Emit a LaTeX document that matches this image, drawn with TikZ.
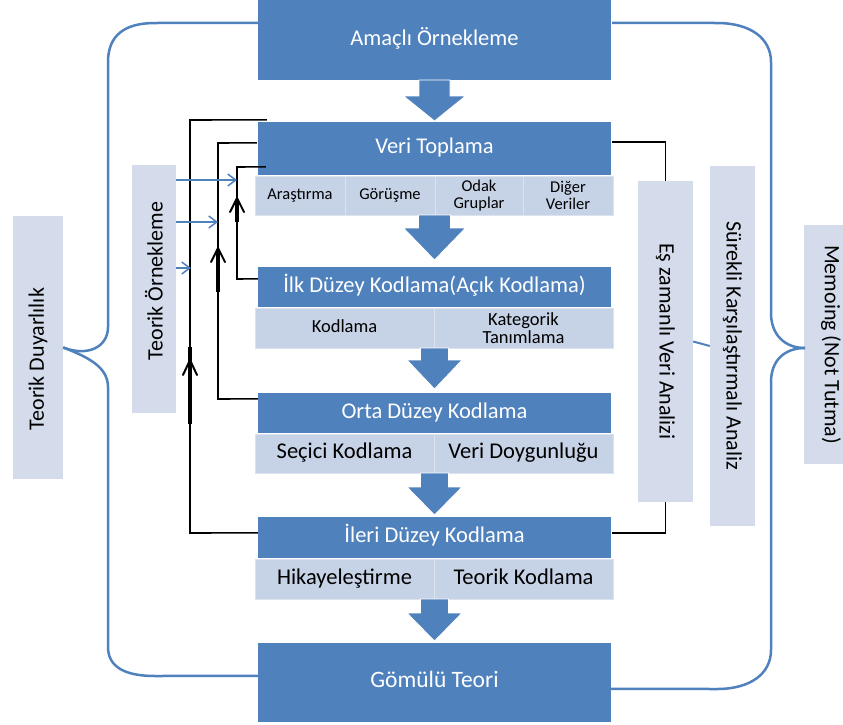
\documentclass[tikz,border=0pt]{standalone}
\usepackage{fontspec}
\setmainfont{Carlito}
\usetikzlibrary{calc,arrows.meta}
\definecolor{mainblue}{HTML}{4F81BD}
\definecolor{cellfill}{HTML}{C6D2E6}
\definecolor{cellline}{HTML}{DCE3EF}
\definecolor{sidefill}{HTML}{D4DCEB}
\newcommand\blkarrow[6]{%
  \path[blockarrow] ({#1-#5},#2) -- ({#1+#5},#2) -- ({#1+#5},#3) -- ({#1+#6},#3) -- (#1,#4) -- ({#1-#6},#3) -- ({#1-#5},#3) -- cycle;}
\begin{document}
\begin{tikzpicture}[x=1pt,y=-1pt,
  mainbox/.style={fill=mainblue, text=white, inner sep=0pt, text height=15pt, text depth=5pt, font=\fontsize{22.5}{24}\selectfont},
  cell/.style={fill=cellfill, draw=cellline, line width=1pt, inner sep=0pt, align=center},
  bigcell/.style={cell, text height=15pt, text depth=5pt, font=\fontsize{22.5}{24}\selectfont},
  midcell/.style={cell, font=\fontsize{18.5}{18.5}\selectfont},
  smallcell/.style={cell, font=\fontsize{16.5}{16.5}\selectfont},
  sidebox/.style={fill=sidefill, inner sep=0pt, font=\fontsize{22}{24}\selectfont},
  blockarrow/.style={fill=mainblue, draw=white, line width=0.8pt},
  fb/.style={line width=1.6pt, black},
  fbthick/.style={line width=3.4pt, black},
  barb/.style={line width=2pt, black, line cap=round, line join=round},
  brace/.style={line width=2.5pt, mainblue, line join=round},
  link/.style={line width=2pt, mainblue},
  bluearrow/.style={line width=1.5pt, mainblue, -{Straight Barb[length=8pt,width=12pt]}}
]
\useasboundingbox (0,0) rectangle (843,724);

% ---- main boxes
\node[mainbox, minimum width=353pt, minimum height=80pt] (amac) at (434.5,40) {Amaçlı Örnekleme};
\node[mainbox, minimum width=353pt, minimum height=53pt] (veri) at (434.5,148.5) {Veri Toplama};
\node[smallcell, minimum width=90pt, minimum height=39pt, text height=11pt, text depth=4pt] (c11) at (300,195.5) {Araştırma};
\node[smallcell, minimum width=90pt, minimum height=39pt, text height=11pt, text depth=4pt] (c12) at (390,195.5) {Görüşme};
\node[smallcell, minimum width=88pt, minimum height=39pt] (c13) at (479,195.5) {Odak\\Gruplar};
\node[smallcell, minimum width=90pt, minimum height=39pt] (c14) at (568,195.5) {Diğer\\Veriler};

\node[mainbox, minimum width=353pt, minimum height=40pt] (ilk) at (434.5,287) {İlk Düzey Kodlama(Açık Kodlama)};
\node[midcell, minimum width=179pt, minimum height=40pt, text height=13pt, text depth=4pt] (c21) at (344.5,328) {Kodlama};
\node[midcell, minimum width=179pt, minimum height=40pt] (c22) at (523.5,328) {Kategorik\\Tanımlama};

\node[mainbox, minimum width=353pt, minimum height=40pt] (orta) at (434.5,413) {Orta Düzey Kodlama};
\node[bigcell, minimum width=179pt, minimum height=39pt] (c31) at (344.5,453.5) {Seçici Kodlama};
\node[bigcell, minimum width=179pt, minimum height=39pt] (c32) at (523.5,453.5) {Veri Doygunluğu};

\node[mainbox, minimum width=353pt, minimum height=41pt] (ileri) at (434.5,537.5) {İleri Düzey Kodlama};
\node[bigcell, minimum width=179pt, minimum height=40pt] (c41) at (344.5,579) {Hikayeleştirme};
\node[bigcell, minimum width=179pt, minimum height=40pt] (c42) at (523.5,579) {Teorik Kodlama};

\node[mainbox, minimum width=353pt, minimum height=79pt, font=\fontsize{23.5}{25}\selectfont] (gomulu) at (434.5,682.5) {Gömülü Teori};

% ---- side boxes
\node[sidebox, rotate=90, minimum width=263pt, minimum height=50pt] (duyar) at (38,347.5) {};
\node[rotate=90, font=\fontsize{22}{24}\selectfont] at (38,359) {Teorik Duyarlılık};
\node[sidebox, rotate=90, minimum width=248pt, minimum height=44pt] (tornek) at (154,289) {};
\node[rotate=90, font=\fontsize{22}{24}\selectfont] at (154,281) {Teorik Örnekleme};
\node[sidebox, rotate=-90, minimum width=321pt, minimum height=55pt] (eszaman) at (665.5,341.5) {Eş zamanlı Veri Analizi};
\node[sidebox, rotate=-90, minimum width=360pt, minimum height=45pt] (surekli) at (732.5,346) {Sürekli Karşılaştırmalı Analiz};
\node[sidebox, rotate=-90, minimum width=239pt, minimum height=54pt] (memo) at (831,344.5) {Memoing (Not Tutma)};

% ---- block arrows
\blkarrow{434.5}{80}{96}{121}{15.5}{31}
\blkarrow{434.5}{215}{228}{260}{16}{31}
\blkarrow{434.5}{348}{360}{389}{14}{27.5}
\blkarrow{434.5}{473}{487}{515}{14}{27.5}
\blkarrow{434.5}{599}{613}{641}{14}{27.5}

% ---- black feedback lines
\draw[fb] ($(veri.north west)+(9,-2)$) -- (190,120) -- (190,533) -- ($(ileri.north west)+(0,16)$);
\draw[fb] ($(veri.north west)+(-1,21)$) -- (218,143) -- (218,399) -- ($(orta.north west)+(0,6)$);
\draw[fb] ($(veri.north west)+(8,45)$) -- (237,167) -- (237,279) -- ($(ilk.north west)+(0,12)$);
\draw[fbthick] (190,347) -- (190,424);
\draw[barb] (183,375) -- (190,360) -- (197,375);
\draw[fbthick] (218,250) -- (218,292);
\draw[barb] (211,262) -- (218,248) -- (225,262);
\draw[fbthick] (237,200) -- (237,222);
\draw[barb] (230,212) -- (237,198) -- (244,212);

% right bracket
\draw[fb] ($(veri.north east)+(1,20)$) -| (eszaman.west);
\draw[fb] (eszaman.east) |- ($(ileri.north east)+(1,16)$);
\draw[link] (eszaman.north) -- (surekli.south);

% ---- blue arrows from Teorik Örnekleme
\coordinate (t1) at (237,180);
\coordinate (t2) at (218,222);
\coordinate (t3) at (191,268);
\draw[bluearrow] (tornek.south |- t1) -- (t1);
\draw[bluearrow] (tornek.south |- t2) -- (t2);
\draw[bluearrow] (tornek.south |- t3) -- (t3);

% ---- braces
\draw[brace] ($(amac.north west)+(0,23)$) -- (155,23) .. controls (125,23) and (108,35) .. (108,62) -- (108,327) .. controls (108,347) and (88,357) .. (duyar.south);
\draw[brace] (duyar.south) .. controls (88,357) and (108,367) .. (108,387) -- (108,647) .. controls (108,667) and (125,676) .. (155,676) -- ($(gomulu.north west)+(0,33)$);
\draw[brace] ($(amac.north east)+(1,23)$) -- (717,23) .. controls (750,23) and (771,38) .. (771,62) -- (771,313) .. controls (771,335) and (785,348) .. (805,348);
\draw[brace] (805,348) .. controls (785,348) and (771,360) .. (771,382) -- (771,650) .. controls (771,674) and (750,689) .. (717,689) -- ($(gomulu.north east)+(0,46)$);
\end{tikzpicture}
\end{document}
